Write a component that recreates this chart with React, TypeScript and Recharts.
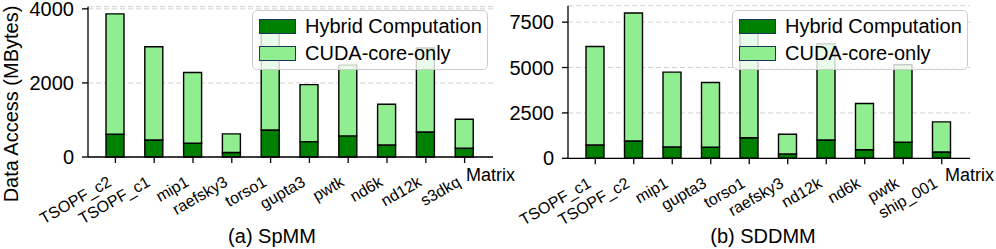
import React from "react";
import { BarChart, Bar, XAxis, YAxis, CartesianGrid, Legend } from "recharts";

// SpMM panel
const spmmMatrices = ["TSOPF_c2", "TSOPF_c1", "mip1", "raefsky3", "torso1", "gupta3", "pwtk", "nd6k", "nd12k", "s3dkq"];
const spmmHybrid = [615, 460, 370, 120, 730, 415, 570, 325, 675, 235];
const spmmCudaOnly = [3865, 2975, 2280, 625, 3390, 1955, 2480, 1425, 2945, 1020];
const spmmTicks = [0, 2000, 4000];

// SDDMM panel
const sddmmMatrices = ["TSOPF_c1", "TSOPF_c2", "mip1", "gupta3", "torso1", "raefsky3", "nd12k", "nd6k", "pwtk", "ship_001"];
const sddmmHybrid = [735, 955, 620, 610, 1135, 235, 1010, 475, 885, 350];
const sddmmCudaOnly = [6160, 8005, 4745, 4175, 7000, 1325, 6300, 3015, 5155, 2005];
const sddmmTicks = [0, 2500, 5000, 7500];

const legendLabels = ["Hybrid Computation", "CUDA-core-only"];

const FONT = "'Liberation Sans', Arial, sans-serif";
const FS = 20;
const DARK = "#008000";
const LIGHT = "#90ee90";

// bars are drawn stacked: hybrid at the bottom, the remainder of the cuda-only total above it
const buildRows = (names: string[], hybrid: number[], cuda: number[]) =>
  names.map((name, i) => ({ name, hybrid: hybrid[i], rest: cuda[i] - hybrid[i] }));

const RotatedTick = (props: any) => {
  const { x, y, payload } = props;
  return (
    <g transform={`translate(${x},${y})`}>
      <text
        x={-3}
        y={20}
        textAnchor="end"
        transform="rotate(-30, -3, 20)"
        style={{ fontFamily: FONT, fontSize: 16, fill: "#000" }}
      >
        {payload.value}
      </text>
    </g>
  );
};

const LegendBox = () => (
  <div
    style={{
      width: 236,
      height: 60,
      boxSizing: "border-box",
      border: "1px solid #cccccc",
      borderRadius: 5,
      background: "rgba(255,255,255,0.8)",
      position: "relative",
      fontFamily: FONT,
      fontSize: FS,
      color: "#000",
    }}
  >
    {legendLabels.map((label, i) => (
      <div
        key={label}
        style={{ position: "absolute", left: 6, top: 8 + i * 26.7, height: 15, display: "flex", alignItems: "center" }}
      >
        <span
          style={{
            display: "inline-block",
            width: 37,
            height: 15,
            boxSizing: "border-box",
            background: i === 0 ? DARK : LIGHT,
            border: "1.5px solid #1c355e",
          }}
        />
        <span style={{ marginLeft: 9, lineHeight: "15px", whiteSpace: "nowrap" }}>{label}</span>
      </div>
    ))}
  </div>
);

type PanelProps = {
  left: number;
  width: number;
  top: number;
  bottom: number;
  right: number;
  yWidth: number;
  names: string[];
  hybrid: number[];
  cuda: number[];
  ticks: number[];
  legendLeft: number;
};

function Panel({ left, width, top, bottom, right, yWidth, names, hybrid, cuda, ticks, legendLeft }: PanelProps) {
  const rows = buildRows(names, hybrid, cuda);
  const axisStyle = { stroke: "#000", strokeWidth: 1.3 };
  return (
    <div style={{ position: "absolute", left, top: 0 }}>
      <BarChart
        width={width}
        height={249}
        data={rows}
        margin={{ top, right, bottom: 249 - bottom - 60, left: 0 }}
        barSize={18}
      >
        <CartesianGrid vertical={false} stroke="#d0d0d0" strokeDasharray="5 3" />
        <XAxis
          dataKey="name"
          interval={0}
          height={60}
          padding={{ left: 8, right: 9 }}
          axisLine={axisStyle}
          tickLine={axisStyle}
          tickSize={6}
          tick={<RotatedTick />}
        />
        <XAxis xAxisId="top" orientation="top" dataKey="name" height={0} tick={false} tickLine={false} axisLine={axisStyle} />
        <YAxis
          width={yWidth}
          domain={[0, (dataMax: number) => dataMax * 1.05]}
          ticks={ticks}
          interval={0}
          axisLine={axisStyle}
          tickLine={axisStyle}
          tickSize={6}
          tickMargin={8}
          tick={{ fill: "#000", fontSize: FS, fontFamily: FONT }}
        />
        <YAxis yAxisId="right" orientation="right" width={0} tick={false} tickLine={false} axisLine={axisStyle} />
        <Bar dataKey="hybrid" stackId="a" fill={DARK} stroke="#000" strokeWidth={1.4} isAnimationActive={false} />
        <Bar dataKey="rest" stackId="a" fill={LIGHT} stroke="#000" strokeWidth={1.4} isAnimationActive={false} />
        <Legend
          layout="horizontal"
          verticalAlign="middle"
          align="center"
          content={() => <LegendBox />}
          wrapperStyle={{ left: legendLeft - left, top: 10, width: 236, height: 60 }}
        />
      </BarChart>
    </div>
  );
}

export default function App() {
  const text = { fontFamily: FONT, fontSize: FS, fill: "#000" };
  return (
    <div style={{ position: "absolute", left: 0, top: 0, width: 996, height: 249, background: "#fff", overflow: "hidden" }}>
      <Panel
        left={0}
        width={520}
        top={6.7}
        bottom={157}
        right={27}
        yWidth={88}
        names={spmmMatrices}
        hybrid={spmmHybrid}
        cuda={spmmCudaOnly}
        ticks={spmmTicks}
        legendLeft={252}
      />
      <Panel
        left={480}
        width={516}
        top={5.7}
        bottom={158.3}
        right={26}
        yWidth={88}
        names={sddmmMatrices}
        hybrid={sddmmHybrid}
        cuda={sddmmCudaOnly}
        ticks={sddmmTicks}
        legendLeft={732}
      />
      <svg width={996} height={249} style={{ position: "absolute", left: 0, top: 0, pointerEvents: "none" }}>
        <text x={18} y={104} textAnchor="middle" transform="rotate(-90, 18, 104)" style={text}>
          Data Access (MBytes)
        </text>
        <text x={466} y={181} style={{ ...text, fontSize: 18 }}>Matrix</text>
        <text x={945} y={181} style={{ ...text, fontSize: 18 }}>Matrix</text>
        <text x={272} y={243} textAnchor="middle" style={text}>(a) SpMM</text>
        <text x={763} y={243} textAnchor="middle" style={text}>(b) SDDMM</text>
      </svg>
    </div>
  );
}
